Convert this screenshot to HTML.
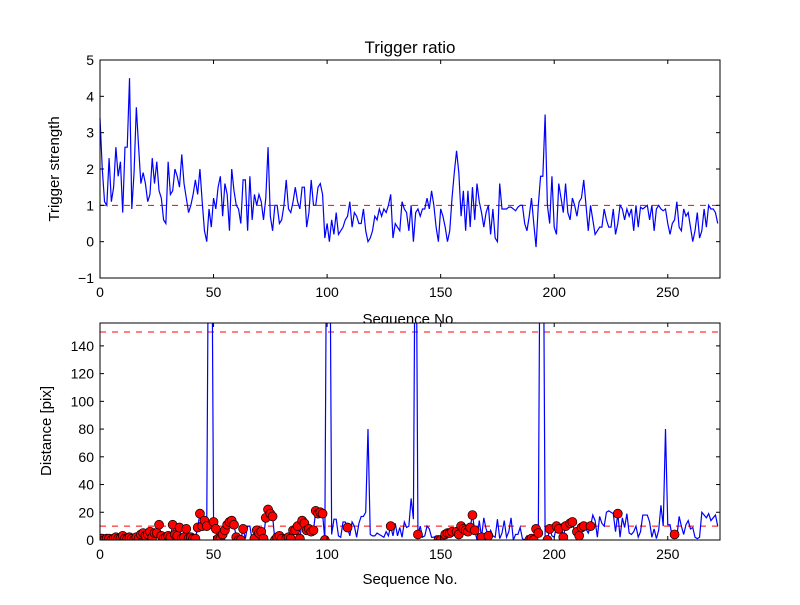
<!DOCTYPE html>
<html><head><meta charset="utf-8"><style>
body{margin:0;background:#fff}
svg text{font-family:"Liberation Sans",sans-serif;fill:#000}
</style></head><body>
<svg id="c" width="800" height="600" xmlns="http://www.w3.org/2000/svg"></svg>
<script>
const trigger=[3.4,2.0,1.1,1.0,2.3,1.1,1.5,2.6,1.8,2.2,0.8,2.6,2.6,4.5,0.9,1.9,3.7,2.6,1.6,1.9,1.6,1.1,1.3,2.3,1.6,2.2,1.4,1.2,0.6,0.5,2.2,1.3,1.4,2.0,1.8,1.5,2.4,1.6,1.2,0.8,1.0,1.3,1.7,1.3,2.0,1.1,0.3,0.0,0.9,0.4,1.2,0.9,1.5,1.8,0.7,1.6,1.3,0.3,2.0,1.4,1.0,0.9,0.5,1.7,1.7,0.3,1.8,0.6,1.3,1.0,1.3,1.1,0.6,1.2,2.6,0.7,0.3,1.0,1.0,0.5,0.6,1.0,1.7,0.9,0.8,1.1,1.5,1.1,0.9,1.5,1.5,0.4,0.8,1.7,1.0,1.0,1.5,1.6,1.3,0.1,0.5,0.0,0.6,0.2,0.8,0.2,0.3,0.4,0.6,0.7,1.1,0.4,0.8,0.7,0.5,0.5,0.9,0.3,0.0,0.1,0.3,0.7,0.6,0.9,0.7,0.9,0.8,1.0,1.3,0.1,0.5,0.4,0.3,1.1,0.9,0.8,0.3,1.0,0.0,0.8,0.9,0.7,0.9,0.9,1.2,0.9,1.4,1.0,0.4,0.0,0.9,0.7,0.4,0.0,0.3,1.2,1.9,2.5,1.9,0.7,1.4,0.3,1.4,0.4,1.5,0.6,1.6,1.1,0.8,0.4,0.8,1.0,0.2,0.9,0.1,0.0,1.6,0.9,0.9,0.9,0.95,0.95,0.9,0.85,0.95,1.0,1.0,0.5,0.3,0.7,1.2,0.5,-0.15,1.0,1.8,1.8,3.5,1.0,0.5,1.8,0.4,0.2,1.6,1.2,0.8,1.6,0.8,0.6,1.2,1.0,0.7,1.1,1.2,1.7,1.0,0.3,1.0,0.6,0.2,0.3,0.4,0.4,0.9,0.6,0.4,0.4,0.9,0.2,0.5,1.0,0.9,0.6,0.9,0.7,0.9,0.3,1.0,0.4,0.95,0.9,0.95,1.0,0.6,1.0,0.3,0.9,1.0,0.9,0.85,0.9,0.5,0.2,0.5,0.6,1.1,0.4,0.3,0.9,0.7,0.8,0.4,0.0,0.3,0.8,0.1,0.3,0.9,0.4,1.0,0.9,0.9,0.8,0.5];
const dist=[1,1,0,1,1,0,1,2,1,1,3,1,1,2,1,0,2,1,4,5,3,4,6,2,5,5,11,3,1,2,3,2,11,4,3,9,1,2,8,1,2,1,1,9,19,10,14,10,300,300,13,8,1,1,4,7,11,13,14,11,2,0,0,8,1,10,10,0,1,7,5,6,1,16,22,19,17,0,2,3,1,0,1,2,1,7,7,10,1,14,12,7,8,6,7,21,19,20,19,0,300,300,4,15,15,3,2,13,13,9,3,13,10,2,12,17,17,20,80,4,3,3,5,4,3,2,6,3,10,3,12,3,9,2,13,9,10,30,15,300,4,10,2,3,10,8,2,2,3,0,0,0,4,5,5,6,4,6,4,10,8,7,6,9,18,7,0,14,2,16,8,3,7,3,2,15,1,5,14,2,6,16,0,4,4,9,1,0,3,0,1,0,8,5,300,300,0,0,8,3,2,10,8,11,2,10,11,12,13,6,6,3,9,10,8,5,10,18,14,2,17,12,10,20,21,20,19,6,19,2,16,9,19,5,4,6,10,2,6,18,18,18,13,2,8,1,7,25,10,80,11,11,2,4,2,17,10,4,11,14,8,9,2,1,2,20,18,16,19,14,16,18,10];
const dotIdx=[];
for(let i=0;i<=47;i++)dotIdx.push(i);
[50,51,52,53,54,55,56,57,58,59,60,61,62,63,68,69,70,71,72,73,74,75,76,77,78,79,80,82,83,84,85,86,87,88,89,90,91,92,93,94,95,96,97,98,99,109,128,140,149,150,152,153,154,155,157,158,159,160,161,162,163,164,165,168,171,189,190,191,192,193,197,198,201,202,204,205,207,208,210,211,212,213,216,228,253].forEach(v=>dotIdx.push(v));
const xTicks=[0,50,100,150,200,250];
const topYTicks=[-1,0,1,2,3,4,5];
const botYTicks=[0,20,40,60,80,100,120,140];

const NS='http://www.w3.org/2000/svg',svg=document.getElementById('c');
function el(t,a,p){const e=document.createElementNS(NS,t);for(const k in a)e.setAttribute(k,a[k]);(p||svg).appendChild(e);return e;}
const L=100,R=720,XMAX=273;
const sx=v=>L+v/XMAX*(R-L);
function axes(T,B,ymin,ymax,yt,name){
  const sy=v=>B-(v-ymin)/(ymax-ymin)*(B-T);
  const g=el('g',{});
  
  
  el('rect',{x:L,y:T,width:R-L,height:B-T,fill:'#fff'},g);
  return {g,sy,T,B,yt};
}
function frame(a,yname){
  const {g,sy,T,B,yt}=a;
  el('rect',{x:L,y:T,width:R-L,height:B-T,fill:'none',stroke:'#000','stroke-width':1},g);
  xTicks.forEach(v=>{const x=sx(v);
    el('line',{x1:x,x2:x,y1:B,y2:B-4,stroke:'#000'},g);el('line',{x1:x,x2:x,y1:T,y2:T+4,stroke:'#000'},g);
    const t=el('text',{x:x,y:B+19,'text-anchor':'middle','font-size':14},g);t.textContent=v;
    });
  yt.forEach(v=>{const y=sy(v);
    el('line',{x1:L,x2:L+4,y1:y,y2:y,stroke:'#000'},g);el('line',{x1:R,x2:R-4,y1:y,y2:y,stroke:'#000'},g);
    const t=el('text',{x:L-6,y:y+5,'text-anchor':'end','font-size':14},g);t.textContent=(v<0?'\u2212'+(-v):v);
    });
}
// top
const A=axes(60,278,-1,5,topYTicks,'trigger-axes');
el('line',{x1:L,x2:R,y1:A.sy(1),y2:A.sy(1),stroke:'#f00','stroke-dasharray':'6,6'},A.g);
const tl=el('polyline',{points:trigger.map((v,i)=>sx(i)+','+A.sy(v)).join(' '),fill:'none',stroke:'#00f','stroke-width':1.2},A.g);


frame(A);
let t=el('text',{x:410,y:53,'text-anchor':'middle','font-size':17});t.textContent='Trigger ratio';


t=el('text',{x:410,y:324,'text-anchor':'middle','font-size':15});t.textContent='Sequence No.';


t=el('text',{x:0,y:0,'text-anchor':'middle','font-size':15,transform:'translate(59,169) rotate(-90)'});t.textContent='Trigger strength';


// bottom
const Bx=axes(323,540,0,156.5,botYTicks,'distance-axes');
el('clipPath',{id:'cp'},Bx.g).appendChild(el('rect',{x:L,y:323,width:R-L,height:217},document.createElementNS(NS,'g')));
el('line',{x1:L,x2:R,y1:Bx.sy(10),y2:Bx.sy(10),stroke:'#f00','stroke-dasharray':'6,6'},Bx.g);
el('line',{x1:L,x2:R,y1:Bx.sy(150),y2:Bx.sy(150),stroke:'#f00','stroke-dasharray':'6,6'},Bx.g);
const dl=el('polyline',{points:dist.map((v,i)=>sx(i)+','+Bx.sy(v)).join(' '),fill:'none',stroke:'#00f','stroke-width':1.2,'clip-path':'url(#cp)'},Bx.g);


const dg=el('g',{'clip-path':'url(#cp)'},Bx.g);
dotIdx.forEach(i=>{const c=el('circle',{cx:sx(i),cy:Bx.sy(dist[i]),r:4.5,fill:'#f00',stroke:'#000','stroke-width':0.7},dg);
  
  });
frame(Bx);
t=el('text',{x:410,y:584,'text-anchor':'middle','font-size':15});t.textContent='Sequence No.';


t=el('text',{x:0,y:0,'text-anchor':'middle','font-size':15,transform:'translate(51,431) rotate(-90)'});t.textContent='Distance [pix]';


</script>
</body></html>
